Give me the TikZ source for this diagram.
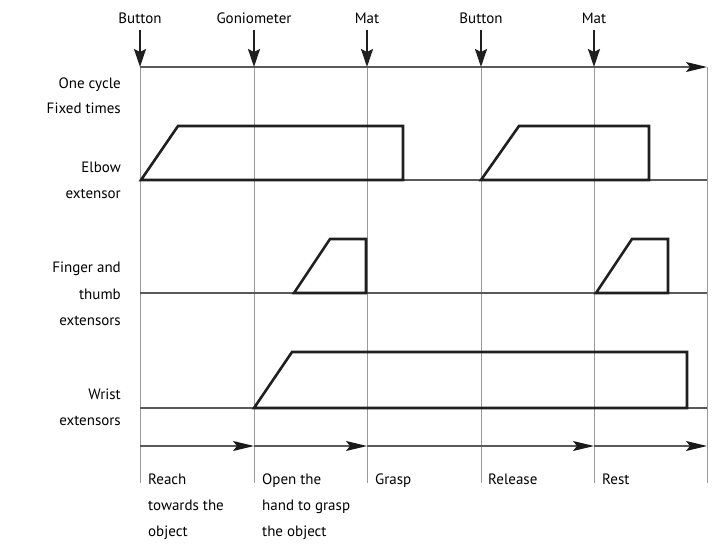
\documentclass[tikz,border=0pt]{standalone}
\usepackage{fontspec}
\setmainfont{PT Sans}
\usetikzlibrary{arrows.meta}
\begin{document}
\begin{tikzpicture}[x=1pt,y=-1pt,
  grid/.style={draw=black!40, line width=0.9pt},
  axis/.style={draw=black!65, line width=1.3pt},
  pulse/.style={draw=black!88, line width=2.6pt, line join=miter},
  bigtip/.style={-{Stealth[length=21pt,width=10pt,inset=4pt,color=black!90]}},
  downarr/.style={draw=black!88, line width=2.2pt,-{Stealth[length=18pt,width=12pt,inset=3pt]}},
  lab/.style={font=\fontsize{15}{17}\selectfont, inner sep=0pt},
  leftlab/.style={lab, anchor=base east},
  botlab/.style={lab, anchor=base west},
  toplab/.style={lab, anchor=base},
]
\useasboundingbox (0,0) rectangle (716,544);

% column coordinates
\foreach \n/\x in {a/140,b/254,c/367,d/481,e/594,f/707}{
  \coordinate (t\n) at (\x,67);
  \coordinate (b\n) at (\x,483);
  \coordinate (r\n) at (\x,446);
  \coordinate (s\n) at (\x,30);
  \coordinate (eb\n) at (\x,180);
  \coordinate (fb\n) at (\x,293);
  \coordinate (wb\n) at (\x,408);
}

% vertical grid lines
\foreach \n in {a,b,c,d,e,f}{ \draw[grid] (t\n) -- (b\n); }

% top time axis
\draw[axis,bigtip] (ta) -- (tf);
% baselines
\draw[axis] (eba) -- (ebf);
\draw[axis] (fba) -- (fbf);
\draw[axis] (wba) -- (wbf);
% phase arrows
\draw[axis,bigtip] (ra) -- (rb);
\draw[axis,bigtip] (rb) -- (rc);
\draw[axis,bigtip] (rc) -- (re);
\draw[axis,bigtip] (re) -- (rf);

% event labels and arrows
\node[toplab] (ev1) at (140,23) {Button};
\node[toplab] (ev2) at (254,23) {Goniometer};
\node[toplab] (ev3) at (367,23) {Mat};
\node[toplab] (ev4) at (481,23) {Button};
\node[toplab] (ev5) at (594,23) {Mat};
\draw[downarr] (sa) -- (ta);
\draw[downarr] (sb) -- (tb);
\draw[downarr] (sc) -- (tc);
\draw[downarr] (sd) -- (td);
\draw[downarr] (se) -- (te);

% muscle activity
\draw[pulse] (141,180) -- (178,126) -- (403,126) -- (403,180) -- cycle;
\draw[pulse] (481,180) -- (519,126) -- (649,126) -- (649,180) -- cycle;
\draw[pulse] (294,293) -- (330,239) -- (366,239) -- (366,293) -- cycle;
\draw[pulse] (596,293) -- (632,239) -- (668,239) -- (668,293) -- cycle;
\draw[pulse] (254,408) -- (292,352) -- (687,352) -- (687,408) -- cycle;

% left labels
\node[leftlab] (l1) at (121,88) {One cycle};
\node[leftlab] (l2) at (121,113) {Fixed times};
\node[leftlab] (l3) at (121,172) {Elbow};
\node[leftlab] (l4) at (121,198) {extensor};
\node[leftlab] (l5) at (121,272) {Finger and};
\node[leftlab] (l6) at (121,299) {thumb};
\node[leftlab] (l7) at (121,325) {extensors};
\node[leftlab] (l8) at (121,399) {Wrist};
\node[leftlab] (l9) at (121,425) {extensors};

% phase labels
\node[botlab] (p1) at (148,484) {Reach};
\node[botlab] (p2) at (148,510) {towards the};
\node[botlab] (p3) at (148,536) {object};
\node[botlab] (p4) at (262,484) {Open the};
\node[botlab] (p5) at (262,510) {hand to grasp};
\node[botlab] (p6) at (262,536) {the object};
\node[botlab] (p7) at (375,484) {Grasp};
\node[botlab] (p8) at (488,484) {Release};
\node[botlab] (p9) at (602,484) {Rest};
\end{tikzpicture}
\end{document}
